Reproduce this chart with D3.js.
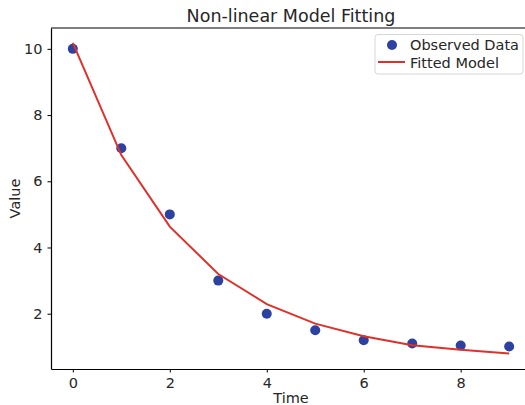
<!DOCTYPE html>
<html lang="en">
<head>
<meta charset="utf-8">
<title>Non-linear Model Fitting</title>
<script src="https://cdn.jsdelivr.net/npm/d3@7"></script>
<style>
  body { margin: 0; background: #fff; }
  svg text { font-family: "DejaVu Sans", sans-serif; fill: #262626; }
</style>
</head>
<body>
<div id="chart"></div>
<script>
const time = [0, 1, 2, 3, 4, 5, 6, 7, 8, 9];
const observed = [10, 7, 5, 3, 2, 1.5, 1.2, 1.1, 1.04, 1.01];
const fitted = [10.18, 6.79, 4.63, 3.2, 2.29, 1.7, 1.32, 1.05, 0.91, 0.8];
const xTicks = [0, 2, 4, 6, 8];
const yTicks = [2, 4, 6, 8, 10];

const w = 525, h = 405;
const plotL = 51, plotR = 531, plotT = 28, plotB = 369;

const x = d3.scaleLinear().domain([-0.45, 9.45]).range([plotL, plotR]);
const y = d3.scaleLinear().domain([0.33, 10.63]).range([plotB, plotT]);

const svg = d3.select("#chart").append("svg")
  .attr("width", w).attr("height", h);

// axes
const xAxis = svg.append("g")
  .attr("transform", "translate(0," + plotB + ")")
  .call(d3.axisBottom(x).tickValues(xTicks).tickSize(3.5).tickPadding(5).tickSizeOuter(0));
const yAxis = svg.append("g")
  .attr("transform", "translate(" + plotL + ",0)")
  .call(d3.axisLeft(y).tickValues(yTicks).tickSize(3.5).tickPadding(5).tickSizeOuter(0));

[xAxis, yAxis].forEach(g => {
  g.selectAll("text").style("font-size", "14.5px").attr("fill", "#262626");
  g.selectAll("line").attr("stroke", "#000");
  g.select(".domain").attr("stroke", "#000").attr("stroke-width", 1.2);
});

// top spine
svg.append("line")
  .attr("x1", plotL).attr("x2", plotR)
  .attr("y1", plotT).attr("y2", plotT)
  .attr("stroke", "#000").attr("stroke-width", 1.2);

// observed points
svg.append("g")
  .selectAll("circle")
  .data(time)
  .enter()
  .append("circle")
  .attr("cx", d => x(d))
  .attr("cy", (d, i) => y(observed[i]))
  .attr("r", 5)
  .attr("fill", "#2c41a0");

// fitted line (drawn on top of the points)
svg.append("path")
  .datum(time)
  .attr("fill", "none")
  .attr("stroke", "#e0302a")
  .attr("stroke-width", 2)
  .attr("d", d3.line().x(d => x(d)).y((d, i) => y(fitted[i])));

// titles
svg.append("text")
  .attr("x", (plotL + plotR) / 2).attr("y", 22)
  .attr("text-anchor", "middle")
  .style("font-size", "17.5px")
  .text("Non-linear Model Fitting");

svg.append("text")
  .attr("x", (plotL + plotR) / 2).attr("y", 403)
  .attr("text-anchor", "middle")
  .style("font-size", "14.5px")
  .text("Time");

svg.append("text")
  .attr("transform", "translate(20," + ((plotT + plotB) / 2) + ") rotate(-90)")
  .attr("text-anchor", "middle")
  .style("font-size", "14.5px")
  .text("Value");

// legend
const lg = svg.append("g");
lg.append("rect")
  .attr("x", 375).attr("y", 34.5)
  .attr("width", 148).attr("height", 39.5)
  .attr("rx", 3)
  .attr("fill", "#fff").attr("fill-opacity", 0.8)
  .attr("stroke", "#d6d6d6");
lg.append("circle")
  .attr("cx", 392).attr("cy", 45)
  .attr("r", 5).attr("fill", "#2c41a0");
lg.append("line")
  .attr("x1", 378).attr("x2", 405)
  .attr("y1", 62).attr("y2", 62)
  .attr("stroke", "#e0302a").attr("stroke-width", 2);
lg.append("text")
  .attr("x", 410).attr("y", 50)
  .style("font-size", "14.5px")
  .text("Observed Data");
lg.append("text")
  .attr("x", 410).attr("y", 67.5)
  .style("font-size", "14.5px")
  .text("Fitted Model");
</script>
</body>
</html>
